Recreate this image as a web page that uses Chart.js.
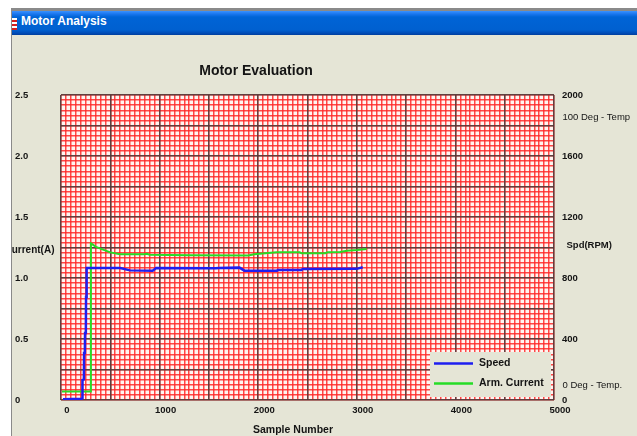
<!DOCTYPE html>
<html>
<head>
<meta charset="utf-8">
<title>Motor Analysis</title>
<script src="https://cdn.jsdelivr.net/npm/chart.js@4/dist/chart.umd.min.js"></script>
<style>
  html, body { margin: 0; padding: 0; background: #ffffff; width: 637px; height: 436px; overflow: hidden; }
  #win {
    position: absolute; left: 11px; top: 8px; width: 626px; height: 428px;
    background: #E5E5D6; border-top: 3px solid #8a8a8a; border-left: 1px solid #8a8a8a;
    box-sizing: border-box;
  }
  #bar {
    position: absolute; left: 0; top: 0; right: 0; height: 24px;
    background: linear-gradient(#3a92ff 0px, #1a76ee 3px, #0064d6 6px, #0060d0 19px, #004cb8 22px, #003e9e 24px);
  }
  #bar .icon {
    position: absolute; left: 0px; top: 7px; width: 5px; height: 12px;
    background: repeating-linear-gradient(#ffffff 0 2px, #d42020 2px 4px);
  }
  #bar .cap {
    position: absolute; left: 9px; top: 0; line-height: 24px; height: 24px; padding-top: 3px;
    font: bold 12px "Liberation Sans", Arial, sans-serif; color: #ffffff;
  }
  #chart { position: absolute; left: 12px; top: 0; z-index: 1; }
</style>
</head>
<body>
<div id="win">
  <div id="bar"><div class="icon"></div><div class="cap">Motor Analysis</div></div>
</div>
<canvas id="chart" width="625" height="436"></canvas>
<script>
// Axis tick values
const sampleTicks  = [0, 1000, 2000, 3000, 4000, 5000];
const currentTicks = [0, 0.5, 1.0, 1.5, 2.0, 2.5];
const rpmTicks     = [0, 400, 800, 1200, 1600, 2000];

// Speed trace (sample number, RPM)
const speedSample = [20, 210, 216, 218, 232, 234, 242, 244, 252, 254, 259, 261,
                     600, 700, 930, 965, 1570, 1600, 1810, 1860,
                     2190, 2200, 2440, 2450, 3000, 3060];
const speedRpm    = [5, 8, 13, 131, 135, 308, 310, 439, 440, 675, 680, 866,
                     866, 850, 848, 866, 864, 866, 868, 848,
                     848, 852, 852, 859, 860, 870];

// Armature current trace (sample number, amps)
const currentSample = [10, 280, 300, 303, 312, 355, 420, 500, 598,
                       850, 870, 900, 1300, 1900, 1960, 2100, 2190,
                       2420, 2440, 2680, 2700, 2830, 2900, 3000, 3100];
const currentAmps   = [0.07, 0.07, 0.07, 1.284, 1.28, 1.255, 1.235, 1.21, 1.194,
                       1.194, 1.198, 1.19, 1.186, 1.185, 1.194, 1.205, 1.211,
                       1.211, 1.202, 1.202, 1.211, 1.213, 1.224, 1.23, 1.238];

const FONT = '"Liberation Sans", Arial, sans-serif';
const INK = '#141414';
const GRID_RED = 'rgba(255,40,40,0.85)';
const GRID_DARK = 'rgba(70,62,62,0.85)';

// A scale used only for its grid lines (no labels, no space in the layout)
function gridScale(position, min, max, count, color, width, z) {
  const values = [];
  for (let i = 0; i <= count; i++) values.push(min + (max - min) * i / count);
  return {
    type: 'linear', position, min, max,
    afterBuildTicks: s => { s.ticks = values.map(v => ({ value: v })); },
    afterFit: s => { if (s.isHorizontal()) s.height = 0; else s.width = 0; },
    ticks: { display: false },
    border: { display: false },
    grid: { color, lineWidth: width, drawTicks: false, z }
  };
}

const tickFont = { family: FONT, weight: 'bold', size: 9.5 };

// Paper background, captions and the framed legend
const panel = {
  id: 'panel',
  beforeDraw(chart) {
    const { ctx, chartArea: a } = chart;
    ctx.save();
    ctx.fillStyle = '#FFF4F0';
    ctx.fillRect(a.left, a.top, a.right - a.left, a.bottom - a.top);
    ctx.restore();
  },
  afterDraw(chart) {
    const { ctx, chartArea: a } = chart;
    ctx.save();
    ctx.fillStyle = INK;
    ctx.textBaseline = 'middle';

    ctx.font = 'bold 14px ' + FONT;
    ctx.textAlign = 'center';
    ctx.fillText('Motor Evaluation', 244, 71);

    ctx.font = 'bold 10.5px ' + FONT;
    ctx.fillText('Sample Number', 281, 430);

    ctx.font = 'bold 10px ' + FONT;
    ctx.textAlign = 'right';
    ctx.fillText('Current(A)', a.left - 6.5, 250);
    ctx.font = 'bold 9.5px ' + FONT;
    ctx.textAlign = 'left';
    ctx.fillText('Spd(RPM)', a.right + 12.5, 245);

    ctx.font = '9.5px ' + FONT;
    ctx.fillText('100 Deg - Temp', a.right + 8.5, 117);
    ctx.fillText('0 Deg - Temp.', a.right + 8.5, 385);

    // legend frame
    const lx = a.right - 124, ly = a.bottom - 48, lw = 121, lh = 45;
    ctx.fillStyle = '#E5E5D6';
    ctx.fillRect(lx, ly, lw, lh);
    const rows = [363.5, 383.5];
    chart.data.datasets.forEach((ds, i) => {
      ctx.strokeStyle = ds.borderColor;
      ctx.lineWidth = 2.5;
      ctx.beginPath();
      ctx.moveTo(lx + 4, rows[i]);
      ctx.lineTo(lx + 43, rows[i]);
      ctx.stroke();
      ctx.fillStyle = INK;
      ctx.font = 'bold 10.5px ' + FONT;
      ctx.textAlign = 'left';
      ctx.fillText(ds.label, lx + 49, rows[i]);
    });
    ctx.restore();
  }
};

new Chart(document.getElementById('chart'), {
  type: 'line',
  data: {
    datasets: [
      {
        label: 'Speed',
        data: speedSample.map((x, i) => ({ x, y: speedRpm[i] })),
        xAxisID: 'x', yAxisID: 'yR',
        borderColor: '#1e1ef0', borderWidth: 2.5,
        pointRadius: 0, tension: 0, fill: false
      },
      {
        label: 'Arm. Current',
        data: currentSample.map((x, i) => ({ x, y: currentAmps[i] })),
        xAxisID: 'x', yAxisID: 'y',
        borderColor: '#26dc26', borderWidth: 2,
        pointRadius: 0, tension: 0, fill: false
      }
    ]
  },
  options: {
    responsive: false,
    animation: false,
    devicePixelRatio: 1,
    layout: { padding: { left: 3, top: 95, right: 0, bottom: 0 } },
    plugins: { legend: { display: false }, title: { display: false }, tooltip: { enabled: false } },
    scales: {
      xMinor: gridScale('bottom', 0, 5000, 100, GRID_RED, 1.5, -3),
      yMinor: gridScale('left', 0, 2.5, 60, GRID_RED, 1.5, -3),
      xMajor: gridScale('bottom', 0, 5000, 10, GRID_DARK, 1.5, -2),
      yMajor: gridScale('left', 0, 2.5, 10, GRID_DARK, 1.5, -2),
      x: {
        type: 'linear', position: 'bottom', min: 0, max: 5000,
        afterBuildTicks: s => { s.ticks = sampleTicks.map(v => ({ value: v })); },
        afterFit: s => { s.height = 36; },
        grid: { display: false, drawTicks: false },
        border: { display: false },
        ticks: {
          font: tickFont, color: INK, padding: 5, labelOffset: 6,
          maxRotation: 0, autoSkip: false, callback: v => String(v)
        }
      },
      y: {
        type: 'linear', position: 'left', min: 0, max: 2.5,
        afterBuildTicks: s => { s.ticks = currentTicks.map(v => ({ value: v })); },
        afterFit: s => { s.width = 46; },
        grid: { display: false, drawTicks: false },
        border: { display: false },
        ticks: {
          font: tickFont, color: INK, crossAlign: 'far',
          callback: v => (v === 0 ? '0' : v.toFixed(1))
        }
      },
      yR: {
        type: 'linear', position: 'right', min: 0, max: 2000,
        afterBuildTicks: s => { s.ticks = rpmTicks.map(v => ({ value: v })); },
        afterFit: s => { s.width = 83; },
        grid: { display: false, drawTicks: false },
        border: { display: false },
        ticks: { font: tickFont, color: INK, padding: 8, callback: v => String(v) }
      }
    }
  },
  plugins: [panel]
});
</script>
</body>
</html>
